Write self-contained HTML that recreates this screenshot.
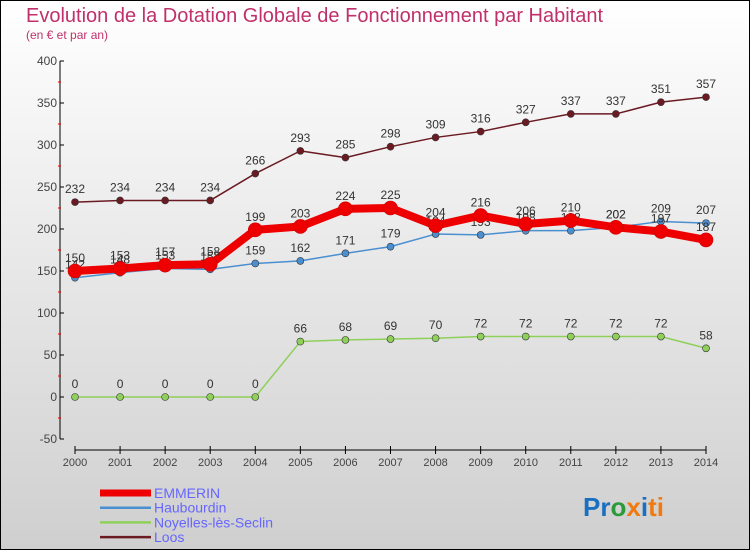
<!DOCTYPE html>
<html><head><meta charset="utf-8"><style>
body{margin:0}
svg{display:block;font-family:"Liberation Sans",sans-serif}
</style></head><body>
<svg id="c" width="750" height="550" xmlns="http://www.w3.org/2000/svg">
<defs><linearGradient id="bg" x1="0" y1="0" x2="0" y2="1"><stop offset="0" stop-color="#ffffff"/><stop offset="1" stop-color="#cfcfcf"/></linearGradient></defs>
<rect x="0.5" y="0.5" width="749" height="549" fill="url(#bg)" stroke="#000"/>
<text x="26" y="22" font-size="20" fill="#c0306a">Evolution de la Dotation Globale de Fonctionnement par Habitant</text>
<text x="26" y="39" font-size="12" fill="#c0306a">(en € et par an)</text>
<g id="axes"></g><g id="series"></g><g id="legend"></g>
<text x="583" y="516" font-size="26" font-weight="bold"><tspan fill="#1a6fc0">Pr</tspan><tspan fill="#2a9a3a">o</tspan><tspan fill="#f07a10">x</tspan><tspan fill="#1a6fc0">i</tspan><tspan fill="#f07a10">ti</tspan></text>
</svg>
<script>
const years=[2000,2001,2002,2003,2004,2005,2006,2007,2008,2009,2010,2011,2012,2013,2014];
const emmerin=[150,153,157,158,199,203,224,225,204,216,206,210,202,197,187];
const haubourdin=[142,148,153,152,159,162,171,179,194,193,198,198,202,209,207];
const noyelles=[0,0,0,0,0,66,68,69,70,72,72,72,72,72,58];
const loos=[232,234,234,234,266,293,285,298,309,316,327,337,337,351,357];
const yTicks=[-50,0,50,100,150,200,250,300,350,400];
const NS="http://www.w3.org/2000/svg";
const X=i=>75+i*(631/14);
const Y=v=>397-v*0.84;
function mk(t,a,p){const e=document.createElementNS(NS,t);for(const k in a)e.setAttribute(k,a[k]);p.appendChild(e);return e;}
const ax=document.getElementById('axes');
let l=mk('line',{x1:60,y1:61,x2:60,y2:439,stroke:'#000'},ax);


yTicks.forEach(v=>{
 const t=mk('line',{x1:60,x2:64,y1:Y(v),y2:Y(v),stroke:'#000'},ax);
 
 
 if(v<400){const m=mk('line',{x1:58,x2:61,y1:Y(v+25),y2:Y(v+25),stroke:'#e00'},ax);
 
 }
 const tx=mk('text',{x:57,y:Y(v)+4,'font-size':12,fill:'#444','text-anchor':'end'},ax);tx.textContent=v;
 
 
});
l=mk('line',{x1:X(0),y1:450,x2:X(14),y2:450,stroke:'#000'},ax);


years.forEach((y,i)=>{
 const t=mk('line',{x1:X(i),x2:X(i),y1:446,y2:454,stroke:'#000'},ax);
 
 
 const tx=mk('text',{x:X(i),y:466,'font-size':11,fill:'#444','text-anchor':'middle'},ax);tx.textContent=y;
 
 
});
const sg=document.getElementById('series');
const series=[
 {n:'loos',d:loos,c:'#6b1a22',w:1.5,r:3.5,lbl:'Loos'},
 {n:'noyelles',d:noyelles,c:'#8fd05a',w:1.5,r:3.5,lbl:'Noyelles-lès-Seclin'},
 {n:'haubourdin',d:haubourdin,c:'#4a8fd0',w:1.5,r:3.5,lbl:'Haubourdin'},
 {n:'emmerin',d:emmerin,c:'#ee0000',w:8,r:7,lbl:'EMMERIN'}];
series.forEach(s=>{
 const g=mk('g',{},sg);
 
 
 const p=mk('polyline',{points:s.d.map((v,i)=>X(i)+','+Y(v)).join(' '),fill:'none',stroke:s.c,'stroke-width':s.w,'stroke-linejoin':'round'},g);
 
 
 s.d.forEach((v,i)=>{
  const c=mk('circle',{cx:X(i),cy:Y(v),r:s.r,fill:s.c,stroke:s.n=='emmerin'?'#c00':'#333','stroke-width':0.6},g);
  
  
  const t=mk('text',{x:X(i),y:Y(v)-9,'font-size':12,fill:'#333','text-anchor':'middle'},g);t.textContent=v;
  
  
 });
});
const lg=document.getElementById('legend');
['emmerin','haubourdin','noyelles','loos'].forEach((n,k)=>{
 const s=series.find(q=>q.n==n);const yy=493+k*14.7;
 const e=mk('line',{x1:100,x2:151,y1:yy,y2:yy,stroke:s.c,'stroke-width':n=='emmerin'?7:2.5},lg);
 
 
 const t=mk('text',{x:154,y:yy+5,'font-size':14,fill:'#6666ff'},lg);t.textContent=s.lbl;
 
 
});
</script>
</body></html>
